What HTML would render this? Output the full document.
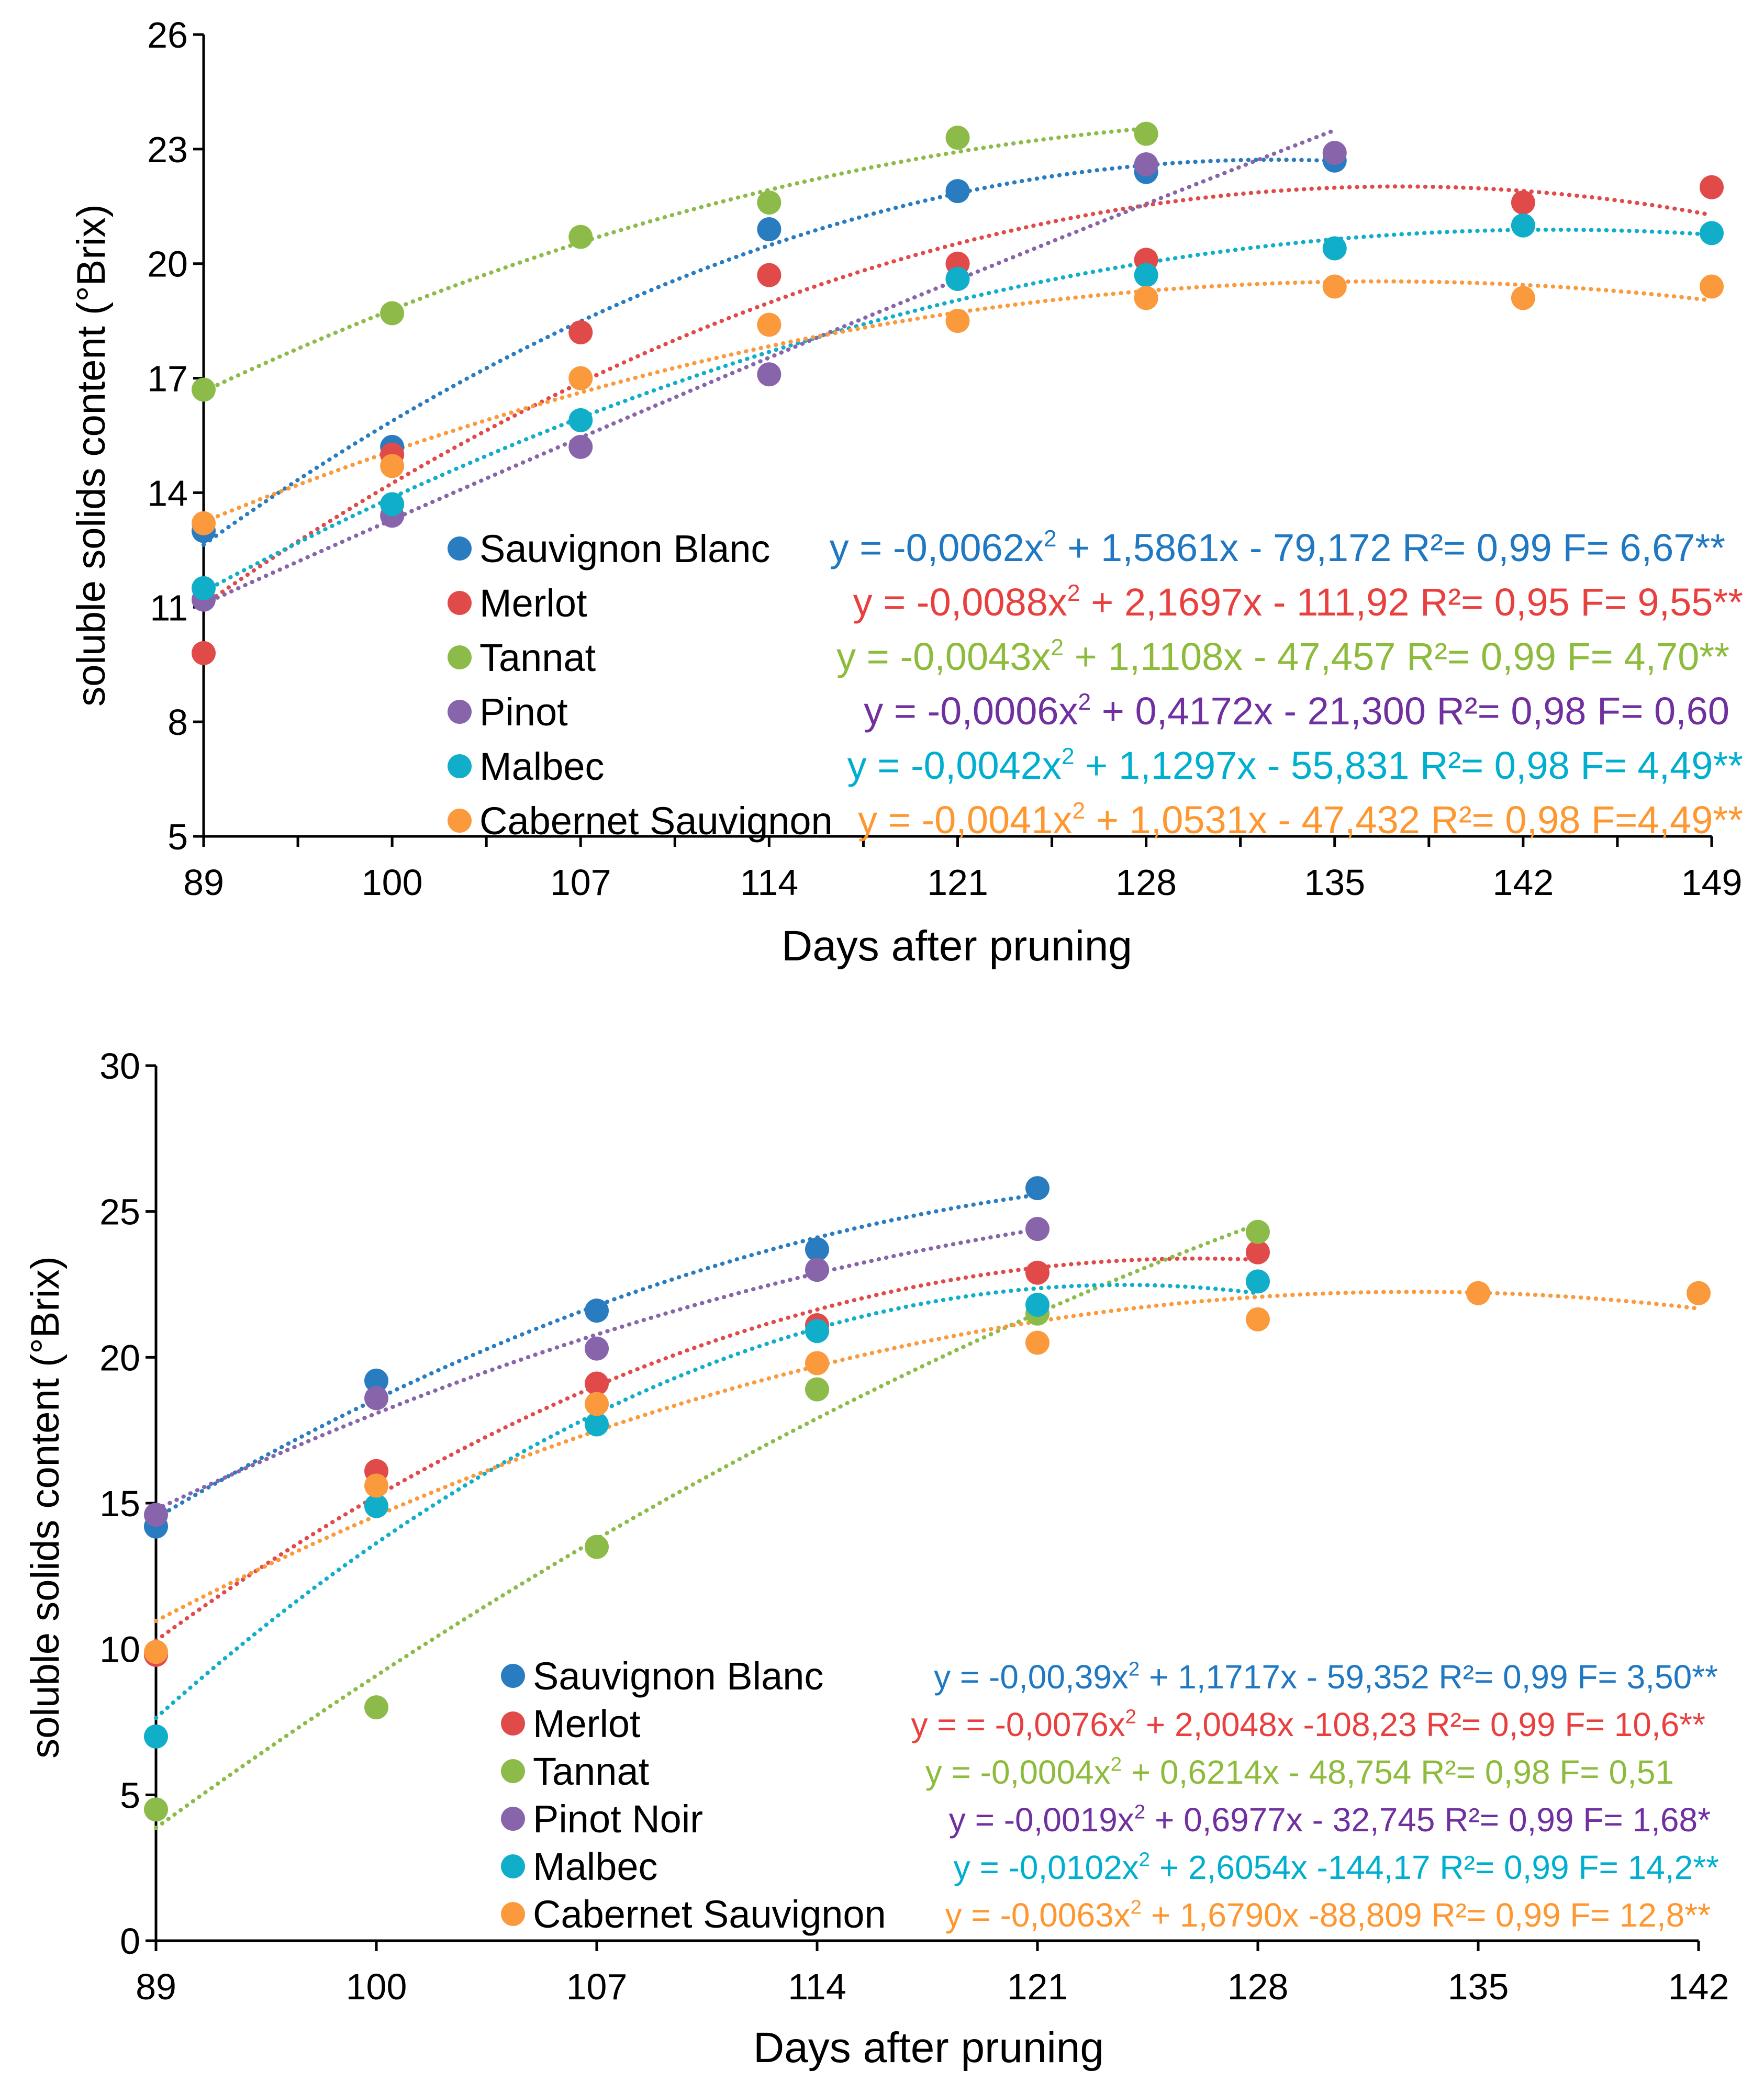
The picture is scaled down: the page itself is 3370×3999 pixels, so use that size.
<!DOCTYPE html>
<html><head><meta charset="utf-8"><style>
html,body{margin:0;padding:0;background:#fff;}
svg{display:block;font-family:"Liberation Sans",Arial,sans-serif;}
</style></head><body>
<svg id="c" width="3370" height="3999" viewBox="0 0 3370 3999" xmlns="http://www.w3.org/2000/svg"></svg>
<script>
// ---- Top chart data ----
const topCats = ["89","100","107","114","121","128","135","142","149"];
const topTicks = [5,8,11,14,17,20,23,26];
const topSB = [13.0,15.2,null,20.9,21.9,22.4,22.7,null,null];
const topMerlot = [9.8,15.0,18.2,19.7,20.0,20.1,null,21.6,22.0];
const topTannat = [16.7,18.7,20.7,21.6,23.3,23.4,null,null,null];
const topPinot = [11.2,13.4,15.2,17.1,19.6,22.6,22.9,null,null];
const topMalbec = [11.5,13.7,15.9,null,19.6,19.7,20.4,21.0,20.8];
const topCab = [13.2,14.7,17.0,18.4,18.5,19.1,19.4,19.1,19.4];
// ---- Bottom chart data ----
const botCats = ["89","100","107","114","121","128","135","142"];
const botTicks = [0,5,10,15,20,25,30];
const botSB = [14.2,19.2,21.6,23.7,25.8,null,null,null];
const botMerlot = [9.8,16.1,19.1,21.1,22.9,23.6,null,null];
const botTannat = [4.5,8.0,13.5,18.9,21.5,24.3,null,null];
const botPinot = [14.6,18.6,20.3,23.0,24.4,null,null,null];
const botMalbec = [7.0,14.9,17.7,20.9,21.8,22.6,null,null];
const botCab = [9.9,15.6,18.4,19.8,20.5,21.3,22.2,22.2];

const names1 = ["Sauvignon Blanc","Merlot","Tannat","Pinot","Malbec","Cabernet Sauvignon"];
const names2 = ["Sauvignon Blanc","Merlot","Tannat","Pinot Noir","Malbec","Cabernet Sauvignon"];
const eq1 = [["y = -0,0062x"," + 1,5861x - 79,172 R²= 0,99 F= 6,67**"],["y = -0,0088x"," + 2,1697x - 111,92 R²= 0,95 F= 9,55**"],["y = -0,0043x"," + 1,1108x - 47,457 R²= 0,99 F= 4,70**"],["y = -0,0006x"," + 0,4172x - 21,300 R²= 0,98 F= 0,60"],["y = -0,0042x"," + 1,1297x - 55,831 R²= 0,98 F= 4,49**"],["y = -0,0041x"," + 1,0531x - 47,432 R²= 0,98 F=4,49**"]];
const eq2 = [["y = -0,00,39x"," + 1,1717x - 59,352 R²= 0,99 F= 3,50**"],["y = = -0,0076x"," + 2,0048x -108,23 R²= 0,99 F= 10,6**"],["y = -0,0004x"," + 0,6214x - 48,754 R²= 0,98 F= 0,51"],["y = -0,0019x"," + 0,6977x - 32,745 R²= 0,99 F= 1,68*"],["y = -0,0102x"," + 2,6054x -144,17 R²= 0,99 F= 14,2**"],["y = -0,0063x"," + 1,6790x -88,809 R²= 0,99 F= 12,8**"]];

const ptCol = ["#2A7CC0","#E04B4A","#8DBB4A","#8864AA","#10AEC8","#FA9A3C"];
const eqCol = ["#1F78C1","#E8403F","#8DBB3C","#7030A0","#00AFCF","#FF9730"];

const NS="http://www.w3.org/2000/svg";
const svg=document.getElementById('c');
function mk(tag,attrs,parent){const e=document.createElementNS(NS,tag);for(const k in attrs)e.setAttribute(k,attrs[k]);(parent||svg).appendChild(e);return e;}

function fit(xs,ys){
  const n=xs.length;let S=[0,0,0,0,0],T=[0,0,0];
  for(let i=0;i<n;i++){const x=xs[i],y=ys[i];let p=1;for(let k=0;k<5;k++){S[k]+=p;if(k<3)T[k]+=p*y;p*=x;}}
  const A=[[S[0],S[1],S[2],T[0]],[S[1],S[2],S[3],T[1]],[S[2],S[3],S[4],T[2]]];
  for(let i=0;i<3;i++){for(let j=i+1;j<3;j++){const f=A[j][i]/A[i][i];for(let k=i;k<4;k++)A[j][k]-=f*A[i][k];}}
  const c=[0,0,0];for(let i=2;i>=0;i--){let s=A[i][3];for(let k=i+1;k<3;k++)s-=A[i][k]*c[k];c[i]=s/A[i][i];}
  return c;
}

function chart(o){
  const g=mk('g',{});
  
  
  const n=o.cats.length;
  const xS=i=>o.x0+(o.x1-o.x0)*i/(n-1);
  const yMin=o.ticks[0],yMax=o.ticks[o.ticks.length-1];
  const yS=v=>o.y1-(v-yMin)/(yMax-yMin)*(o.y1-o.y0);
  const ya=mk('line',{x1:o.x0,y1:o.y0,x2:o.x0,y2:o.y1,stroke:'#000','stroke-width':5},g);
  
  const xa=mk('line',{x1:o.x0,y1:o.y1,x2:o.x1,y2:o.y1,stroke:'#000','stroke-width':5},g);
  
  o.ticks.forEach(v=>{
    mk('line',{x1:o.x0-20,y1:yS(v),x2:o.x0,y2:yS(v),stroke:'#000','stroke-width':5},g);
    const t=mk('text',{x:o.x0-30,y:yS(v)+25,'text-anchor':'end','font-size':70},g);t.textContent=v;
    
  });
  o.cats.forEach((c,i)=>{
    mk('line',{x1:xS(i),y1:o.y1,x2:xS(i),y2:o.y1+20,stroke:'#000','stroke-width':5},g);
    if(o.minor&&i<n-1){const xm=(xS(i)+xS(i+1))/2;mk('line',{x1:xm,y1:o.y1,x2:xm,y2:o.y1+20,stroke:'#000','stroke-width':5},g);}
    const t=mk('text',{x:xS(i),y:o.y1+112,'text-anchor':'middle','font-size':70},g);t.textContent=c;
    
  });
  const xt=mk('text',{x:o.xtX,y:o.xtY,'text-anchor':'middle','font-size':82},g);xt.textContent='Days after pruning';
  
  const yt=mk('text',{x:0,y:0,'text-anchor':'middle','font-size':76,transform:`translate(${o.ytX},${o.ytY}) rotate(-90)`,'xml:space':'preserve'},g);yt.textContent='soluble solids content  (°Brix)';
  
  o.series.forEach((s,si)=>{
    const xs=[],ys=[];s.forEach((v,i)=>{if(v!=null){xs.push(i);ys.push(v);}});
    const c=fit(xs,ys);let d='';
    const a=xs[0],b=xs[xs.length-1];
    for(let k=0;k<=100;k++){const x=a+(b-a)*k/100;const y=c[0]+c[1]*x+c[2]*x*x;d+=(k?'L':'M')+xS(x).toFixed(1)+' '+yS(y).toFixed(1);}
    const tl=mk('path',{d:d,fill:'none',stroke:ptCol[si],'stroke-width':8,'stroke-linecap':'round','stroke-dasharray':'0.5 14'},g);
    
  });
  o.series.forEach((s,si)=>{
    s.forEach((v,i)=>{if(v==null)return;
      const p=mk('circle',{cx:xS(i),cy:yS(v),r:23,fill:ptCol[si]},g);
      
    });
  });
  o.names.forEach((nm,i)=>{
    const y=o.legY+i*o.legDy;
    const m=mk('circle',{cx:o.legX,cy:y,r:23,fill:ptCol[i]},g);
    
    const t=mk('text',{x:o.legX+38,y:y+26,'font-size':74},g);t.textContent=nm;
    
    const e=mk('text',{x:o.eqEnd[i],y:y+24,'text-anchor':'end','font-size':o.eqSize,fill:eqCol[i]},g);
    
    const t1=mk('tspan',{},e);t1.textContent=o.eqs[i][0];
    const t2=mk('tspan',{'font-size':o.eqSize*0.6,dy:-o.eqSize*0.38},e);t2.textContent='2';
    const t3=mk('tspan',{dy:o.eqSize*0.38},e);t3.textContent=o.eqs[i][1];
  });
}

chart({name:'top-chart',cats:topCats,ticks:topTicks,series:[topSB,topMerlot,topTannat,topPinot,topMalbec,topCab],
  x0:389,x1:3270,y0:66,y1:1598,minor:true,xtX:1828,xtY:1835,ytX:200,ytY:870,
  names:names1,eqs:eq1,legX:878,legY:1048,legDy:104,eqSize:74,eqEnd:[3296,3330,3304,3304,3330,3330]});
chart({name:'bottom-chart',cats:botCats,ticks:botTicks,series:[botSB,botMerlot,botTannat,botPinot,botMalbec,botCab],
  x0:298,x1:3245,y0:2036,y1:3708,minor:false,xtX:1774,xtY:3940,ytX:112,ytY:2880,
  names:names2,eqs:eq2,legX:980,legY:3202,legDy:91,eqSize:64,eqEnd:[3282,3258,3198,3268,3284,3268]});
</script>
</body></html>
